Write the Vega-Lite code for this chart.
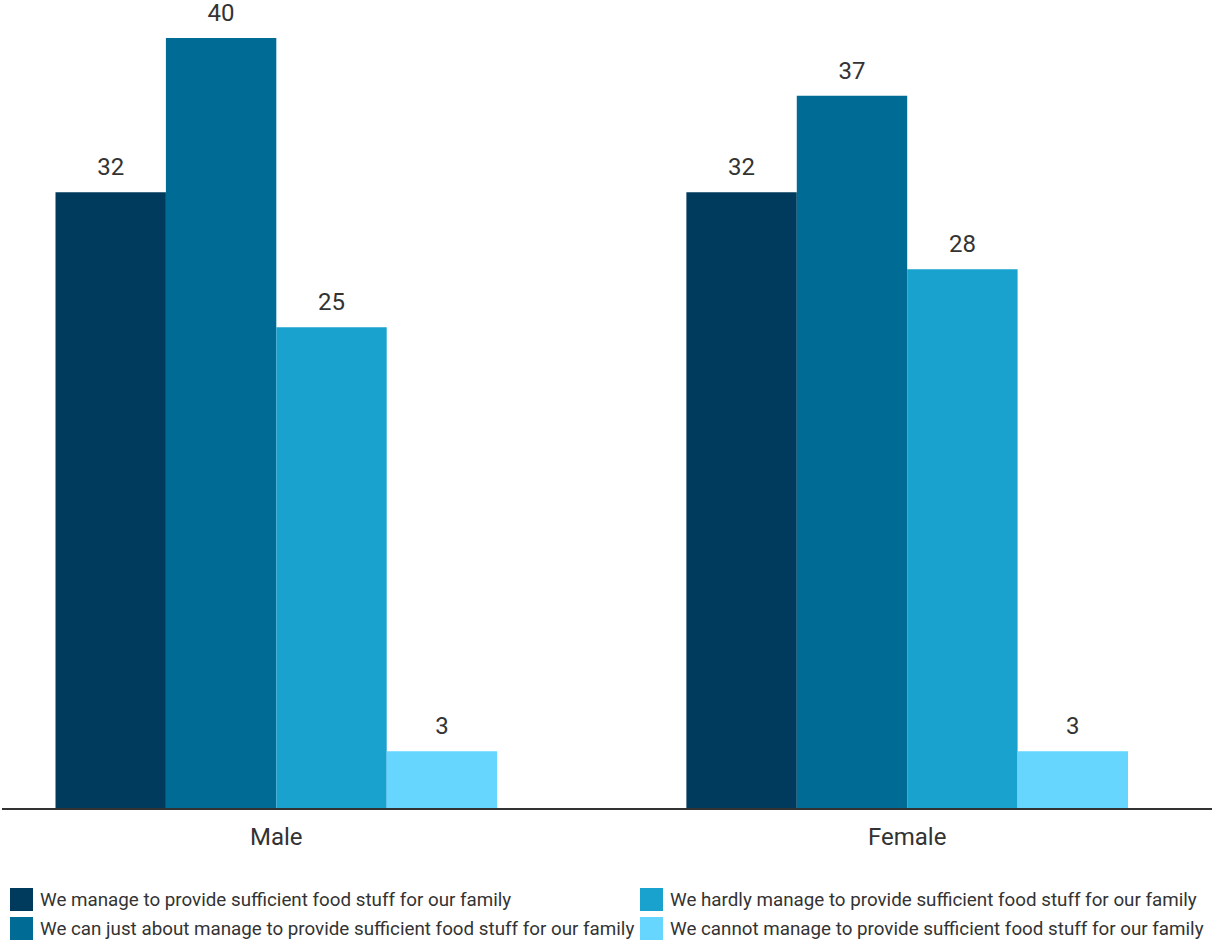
{
  "$schema": "https://vega.github.io/schema/vega-lite/v6.json",
  "autosize": {"type": "none"},
  "width": 1210,
  "height": 771,
  "padding": {"left": 2, "top": 38, "right": 0, "bottom": 132},
  "config": {
    "view": {"stroke": null},
    "font": "Roboto",
    "text": {"font": "Roboto"}
  },
  "data": {
    "values": [
      {"gender": "Male", "response": "We manage to provide sufficient food stuff for our family", "value": 32},
      {"gender": "Male", "response": "We can just about manage to provide sufficient food stuff for our family", "value": 40},
      {"gender": "Male", "response": "We hardly manage to provide sufficient food stuff for our family", "value": 25},
      {"gender": "Male", "response": "We cannot manage to provide sufficient food stuff for our family", "value": 3},
      {"gender": "Female", "response": "We manage to provide sufficient food stuff for our family", "value": 32},
      {"gender": "Female", "response": "We can just about manage to provide sufficient food stuff for our family", "value": 37},
      {"gender": "Female", "response": "We hardly manage to provide sufficient food stuff for our family", "value": 28},
      {"gender": "Female", "response": "We cannot manage to provide sufficient food stuff for our family", "value": 3}
    ]
  },
  "layer": [
    {
      "mark": {"type": "bar"},
      "encoding": {
        "x": {
          "field": "gender",
          "type": "nominal",
          "sort": ["Male", "Female"],
          "title": null,
          "scale": {"range": [53.5, 1126], "paddingInner": 0.3, "paddingOuter": 0},
          "axis": {
            "domain": false,
            "ticks": false,
            "tickSize": 0,
            "labelAngle": 0,
            "labelFontSize": 24,
            "labelColor": "#333333",
            "labelBaseline": "alphabetic",
            "labelPadding": 35
          }
        },
        "xOffset": {
          "field": "response",
          "type": "nominal",
          "sort": [
            "We manage to provide sufficient food stuff for our family",
            "We can just about manage to provide sufficient food stuff for our family",
            "We hardly manage to provide sufficient food stuff for our family",
            "We cannot manage to provide sufficient food stuff for our family"
          ],
          "scale": {"paddingInner": 0, "paddingOuter": 0}
        },
        "y": {
          "field": "value",
          "type": "quantitative",
          "scale": {"domain": [0, 40]},
          "axis": null
        },
        "color": {
          "field": "response",
          "type": "nominal",
          "scale": {
            "domain": [
              "We manage to provide sufficient food stuff for our family",
              "We can just about manage to provide sufficient food stuff for our family",
              "We hardly manage to provide sufficient food stuff for our family",
              "We cannot manage to provide sufficient food stuff for our family"
            ],
            "range": ["#003a5d", "#006b95", "#1aa2cf", "#66d6ff"]
          },
          "legend": {
            "title": null,
            "orient": "none",
            "legendX": 8,
            "legendY": 850,
            "columns": 2,
            "columnPadding": 5,
            "rowPadding": 6,
            "padding": 0,
            "symbolType": "square",
            "symbolSize": 529,
            "symbolStrokeWidth": 0,
            "symbolOpacity": 1,
            "labelFontSize": 18.8,
            "labelColor": "#333333",
            "labelOffset": 7,
            "labelLimit": 1000
          }
        }
      }
    },
    {
      "mark": {"type": "text", "dy": -17, "baseline": "alphabetic", "fontSize": 24, "color": "#333333"},
      "encoding": {
        "x": {"field": "gender", "type": "nominal", "sort": ["Male", "Female"]},
        "xOffset": {
          "field": "response",
          "type": "nominal",
          "sort": [
            "We manage to provide sufficient food stuff for our family",
            "We can just about manage to provide sufficient food stuff for our family",
            "We hardly manage to provide sufficient food stuff for our family",
            "We cannot manage to provide sufficient food stuff for our family"
          ]
        },
        "y": {"field": "value", "type": "quantitative"},
        "text": {"field": "value", "type": "quantitative"}
      }
    },
    {
      "mark": {"type": "rule", "color": "#333333", "strokeWidth": 2},
      "encoding": {"y": {"datum": 0, "type": "quantitative"}}
    }
  ]
}
